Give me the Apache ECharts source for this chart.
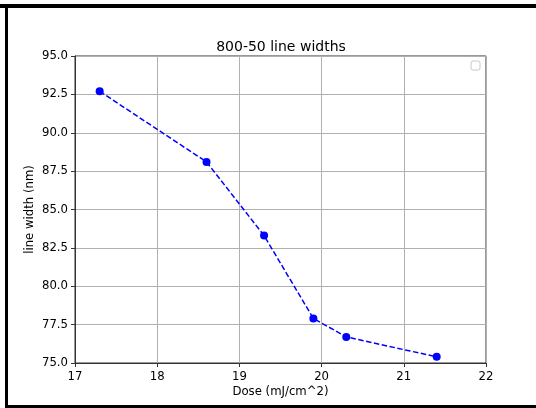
<!DOCTYPE html>
<html><head><meta charset="utf-8">
<script src="https://cdn.jsdelivr.net/npm/echarts@6/dist/echarts.min.js"></script>
<style>html,body{margin:0;padding:0;background:#fff}#c{width:536px;height:408px}</style>
</head><body><div id="c"></div>
<script>
const dose = [17.3, 18.6, 19.3, 19.9, 20.3, 21.4];
const lineWidth = [92.7, 88.1, 83.3, 77.9, 76.7, 75.4];
const titleText = '800-50 line widths';
const xName = 'Dose (mJ/cm^2)';
const yName = 'line width (nm)';

const chart = echarts.init(document.getElementById('c'));
const font = 'DejaVu Sans';
chart.setOption({
  animation: false,
  backgroundColor: '#fff',
  title: { text: titleText, left: 276, top: 35, textAlign: 'center',
    textStyle: { fontFamily: font, fontSize: 14, fontWeight: 'normal', color: '#000' } },
  grid: { left: 75, right: 50, top: 56, bottom: 45, show: true, borderColor: '#333', borderWidth: 1, backgroundColor: 'transparent' },
  xAxis: { type: 'value', min: 17, max: 22, interval: 1,
    name: xName, nameLocation: 'middle', nameGap: 23, nameMoveOverlap: false,
    nameTextStyle: { fontFamily: font, fontSize: 11.7, color: '#000' },
    axisLine: { show: true, onZero: false, lineStyle: { color: '#333' } },
    axisTick: { show: true, length: 4, lineStyle: { color: '#333' } },
    axisLabel: { fontFamily: font, fontSize: 11.7, color: '#000', margin: 8 },
    splitLine: { show: true, lineStyle: { color: '#b0b0b0', width: 1 } } },
  yAxis: { type: 'value', min: 75, max: 95, interval: 2.5,
    name: yName, nameLocation: 'middle', nameGap: 39, nameMoveOverlap: false,
    nameTextStyle: { fontFamily: font, fontSize: 11.7, color: '#000' },
    axisLine: { show: true, onZero: false, lineStyle: { color: '#333' } },
    axisTick: { show: true, length: 4, lineStyle: { color: '#333' } },
    axisLabel: { fontFamily: font, fontSize: 11.7, color: '#000', margin: 7,
      formatter: v => v.toFixed(1) },
    splitLine: { show: true, lineStyle: { color: '#b0b0b0', width: 1 } } },
  series: [{ type: 'line', data: dose.map((d, i) => [d, lineWidth[i]]),
    symbol: 'circle', symbolSize: 8, showSymbol: true,
    itemStyle: { color: '#0000ff' },
    lineStyle: { color: '#0000ff', width: 1.5, type: [5.5, 2.5] } }],
  graphic: [
    { type: 'rect', shape: { x: 0, y: 4, width: 536, height: 4 }, style: { fill: '#000' } },
    { type: 'rect', shape: { x: 5, y: 4, width: 3, height: 404 }, style: { fill: '#000' } },
    { type: 'rect', shape: { x: 5, y: 405, width: 531, height: 3 }, style: { fill: '#000' } },
    { type: 'rect', shape: { x: 471, y: 61, width: 9, height: 9, r: 2 }, style: { fill: '#fff', stroke: '#c8c8c8', lineWidth: 1 } }
  ]
});
</script></body></html>
